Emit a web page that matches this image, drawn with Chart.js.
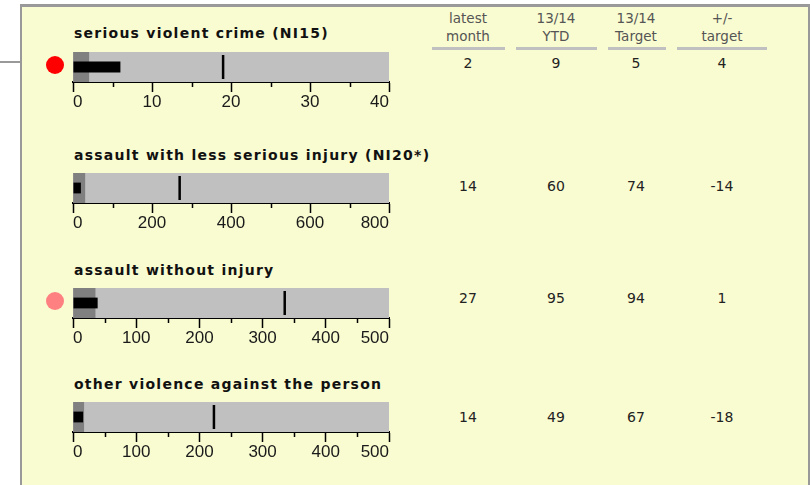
<!DOCTYPE html>
<html>
<head>
<meta charset="utf-8">
<script src="https://cdn.jsdelivr.net/npm/chart.js@4.4.1/dist/chart.umd.min.js"></script>
<style>
	body { margin: 0; width: 810px; height: 485px; overflow: hidden; background: #fff; position: relative; }
	#panel { position: absolute; left: 20px; top: 4px; width: 790px; height: 500px; box-sizing: border-box;
		background: #F9FBD0; border-top: 3px solid #999; border-left: 2px solid #999; border-right: 2px solid #999; }
	#link { position: absolute; left: 0; top: 61px; width: 20px; height: 2px; background: #999; }
	.title { position: absolute; left: 74px; font: bold 14px 'DejaVu Sans', sans-serif; line-height: 16px;
		letter-spacing: 1.25px; color: #111; white-space: nowrap; }
	.head { position: absolute; width: 100px; text-align: center; font: 13.5px 'DejaVu Sans', sans-serif;
		line-height: 17.5px; color: #555; }
	.rule { position: absolute; top: 47px; height: 3px; background: #C0C0C0; }
	.val { position: absolute; width: 100px; text-align: center; font: 14px 'DejaVu Sans', sans-serif;
		line-height: 16px; color: #222; }
	.dot { position: absolute; width: 18px; height: 18px; border-radius: 50%; }
	canvas { position: absolute; }
</style>
</head>
<body onload="start()">
<div id="panel"></div>
<div id="link"></div>

<script>
var titles = ['serious violent crime (NI15)', 'assault with less serious injury (NI20*)', 'assault without injury', 'other violence against the person'];

// scale of each bullet
var maxValues = [40, 800, 500, 500];
var majorSteps = [10, 200, 100, 100];
var minorSteps = [5, 100, 50, 50];

// bullet marks
var bandValues = [2, 30, 35, 17];
var barValues = [6, 20, 39, 16];
var targetValues = [19, 270, 335, 223];

var statusColours = ['#FF0000', '', '#FF8080', ''];

// table on the right
var headers = [['latest', 'month'], ['13/14', 'YTD'], ['13/14', 'Target'], ['+/-', 'target']];
var latestMonth = [2, 14, 27, 14];
var ytd = [9, 60, 95, 49];
var yearTarget = [5, 74, 94, 67];
var plusMinus = [4, -14, 1, -18];

var rowTops = [52, 173, 288, 402];
var titleTops = [25, 147, 262, 376];
var valueTops = [55, 178, 290, 409];
var colCentres = [468, 556, 636, 722];
var ruleSpans = [[432, 505], [516, 597], [608, 666], [677, 767]];

var tickFont;

// axis numbers want a narrow sans face; take the narrowest one that is really there
function pickTickFont()
{
	var ctx = document.createElement('canvas').getContext('2d');
	var candidates = [
		{ weight: 'normal', family: "'Liberation Sans Narrow', 'DejaVu Sans'" },
		{ weight: 'normal', family: "'DejaVu Sans Condensed', 'DejaVu Sans'" },
		{ weight: 'normal condensed', family: "'DejaVu Sans'" },
		{ weight: 'normal condensed', family: "'Noto Sans', 'DejaVu Sans'" },
		{ weight: 'normal', family: "'Liberation Sans', 'DejaVu Sans'" }
	];
	var best = candidates[candidates.length - 1];
	var bestWidth = 1e9;
	candidates.forEach(function(c)
	{
		ctx.font = c.weight + ' 17px ' + c.family;
		var w = ctx.measureText('0123456789').width;
		if (w < bestWidth - 0.5)
		{
			bestWidth = w;
			best = c;
		}
	});
	return best;
}

function addDiv(cls, text, left, top)
{
	var d = document.createElement('div');
	d.className = cls;
	d.innerHTML = text;
	d.style.left = left + 'px';
	d.style.top = top + 'px';
	document.body.appendChild(d);
	return d;
}

// short ticks at the half steps
function minorTicks(major)
{
	return {
		id: 'minorTicks',
		afterDraw: function(chart)
		{
			var scale = chart.scales.x;
			var ctx = chart.ctx;
			ctx.save();
			ctx.strokeStyle = '#000';
			ctx.lineWidth = 1.5;
			scale.ticks.forEach(function(t)
			{
				if (t.value % major == 0)
					return;
				var x = Math.round(scale.getPixelForValue(t.value)) + 0.5;
				ctx.beginPath();
				ctx.moveTo(x, scale.top);
				ctx.lineTo(x, scale.top + 5);
				ctx.stroke();
			});
			ctx.restore();
		}
	};
}

function makeBullet(i)
{
	var canvas = document.createElement('canvas');
	canvas.width = 324;
	canvas.height = 60;
	canvas.style.left = '69px';
	canvas.style.top = rowTops[i] + 'px';
	document.body.appendChild(canvas);

	var major = majorSteps[i];

	new Chart(canvas.getContext('2d'), {
		type: 'bar',
		data: {
			labels: [titles[i]],
			datasets: [
				{
					type: 'line',
					indexAxis: 'y',
					data: [targetValues[i]],
					showLine: false,
					pointStyle: 'line',
					rotation: 90,
					pointRadius: 12,
					pointBorderWidth: 2.5,
					pointBorderColor: '#000',
					order: 0
				},
				{ data: [barValues[i]], backgroundColor: '#000', barPercentage: 0.36, categoryPercentage: 1, order: 1 },
				{ data: [bandValues[i]], backgroundColor: '#808080', barPercentage: 1, categoryPercentage: 1, order: 2 },
				{ data: [maxValues[i]], backgroundColor: '#C0C0C0', barPercentage: 1, categoryPercentage: 1, order: 3 }
			]
		},
		options: {
			indexAxis: 'y',
			responsive: false,
			animation: false,
			datasets: { bar: { grouped: false } },
			layout: { autoPadding: false, padding: { left: 4, right: 4, top: 0, bottom: 0 } },
			plugins: { legend: { display: false }, tooltip: { enabled: false } },
			scales: {
				y: { display: false },
				x: {
					min: 0,
					max: maxValues[i],
					afterFit: function(scale) { scale.paddingLeft = 0; scale.paddingRight = 0; },
					border: { color: '#000', width: 2 },
					grid: {
						drawOnChartArea: false,
						tickLength: 10,
						tickWidth: 1.5,
						tickColor: function(c) { return (c.tick && c.tick.value % major == 0) ? '#000' : 'rgba(0,0,0,0)'; }
					},
					ticks: {
						stepSize: minorSteps[i],
						autoSkip: false,
						maxRotation: 0,
						align: 'inner',
						padding: 0,
						color: '#1a1a1a',
						font: { family: tickFont.family, weight: tickFont.weight, size: 17 },
						callback: function(v) { return v % major == 0 ? v : ''; }
					}
				}
			}
		},
		plugins: [minorTicks(major)]
	});
}

function start()
{
	tickFont = pickTickFont();

	var i;
	for (i = 0; i < titles.length; i++)
	{
		addDiv('title', titles[i], 74, titleTops[i]);
		if (statusColours[i] != '')
		{
			var dot = addDiv('dot', '', 46, rowTops[i] + 4);
			dot.style.background = statusColours[i];
		}
		makeBullet(i);

		var row = [latestMonth[i], ytd[i], yearTarget[i], plusMinus[i]];
		row.forEach(function(v, c)
		{
			addDiv('val', v, colCentres[c] - 50, valueTops[i]);
		});
	}

	headers.forEach(function(h, c)
	{
		addDiv('head', h[0] + '<br>' + h[1], colCentres[c] - 50, 10);
		var r = addDiv('rule', '', ruleSpans[c][0], 47);
		r.style.width = (ruleSpans[c][1] - ruleSpans[c][0]) + 'px';
	});
}
</script>
</body>
</html>
